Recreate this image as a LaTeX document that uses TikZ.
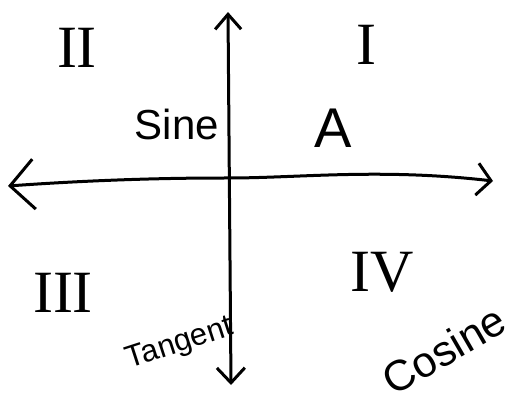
\documentclass[tikz,border=0pt]{standalone}
\usepackage{fontspec}
\setmainfont{Liberation Sans}
\newfontfamily\romanfont{Liberation Serif}
\usetikzlibrary{arrows.meta}
\begin{document}
\begin{tikzpicture}[x=1pt,y=-1pt,
  axis/.style={line width=3pt, line cap=round, line join=round},
  lbl/.style={inner sep=0pt, anchor=center},
  roman/.style={lbl, font=\fontsize{60}{60}\selectfont\romanfont}]
\useasboundingbox (0,0) rectangle (514,406);
\coordinate (L) at (8,186);
\coordinate (R) at (493,181);
\coordinate (T) at (228,12);
\coordinate (B) at (231,385);
\draw[axis, {Straight Barb[length=24pt,width=50pt,line width=3pt]}-{Straight Barb[length=14pt,width=32pt,line width=3pt]}]
  (L) .. controls (120,178) and (200,178) .. (228,178) .. controls (300,178) and (380,168) .. (R);
\draw[axis, {Straight Barb[length=15pt,width=26pt,line width=3pt]}-{Straight Barb[length=15pt,width=28pt,line width=3pt]}] (T) -- (B);
\node[roman] (q2) at (77,48) {II};
\node[roman] (q1) at (366,45) {I};
\node[roman] (q3) at (63,293) {III};
\node[roman] (q4) at (382,272) {IV};
\node[lbl, font=\fontsize{42}{42}\selectfont] (sine) at (177,124) {Sine};
\node[lbl, font=\fontsize{56}{56}\selectfont] (a) at (333,128) {A};
\node[lbl, font=\fontsize{31}{31}\selectfont, rotate=18] (tan) at (180,344) {Tangent};
\node[lbl, font=\fontsize{43}{43}\selectfont, rotate=30] (cos) at (444,350) {Cosine};
\end{tikzpicture}
\end{document}
